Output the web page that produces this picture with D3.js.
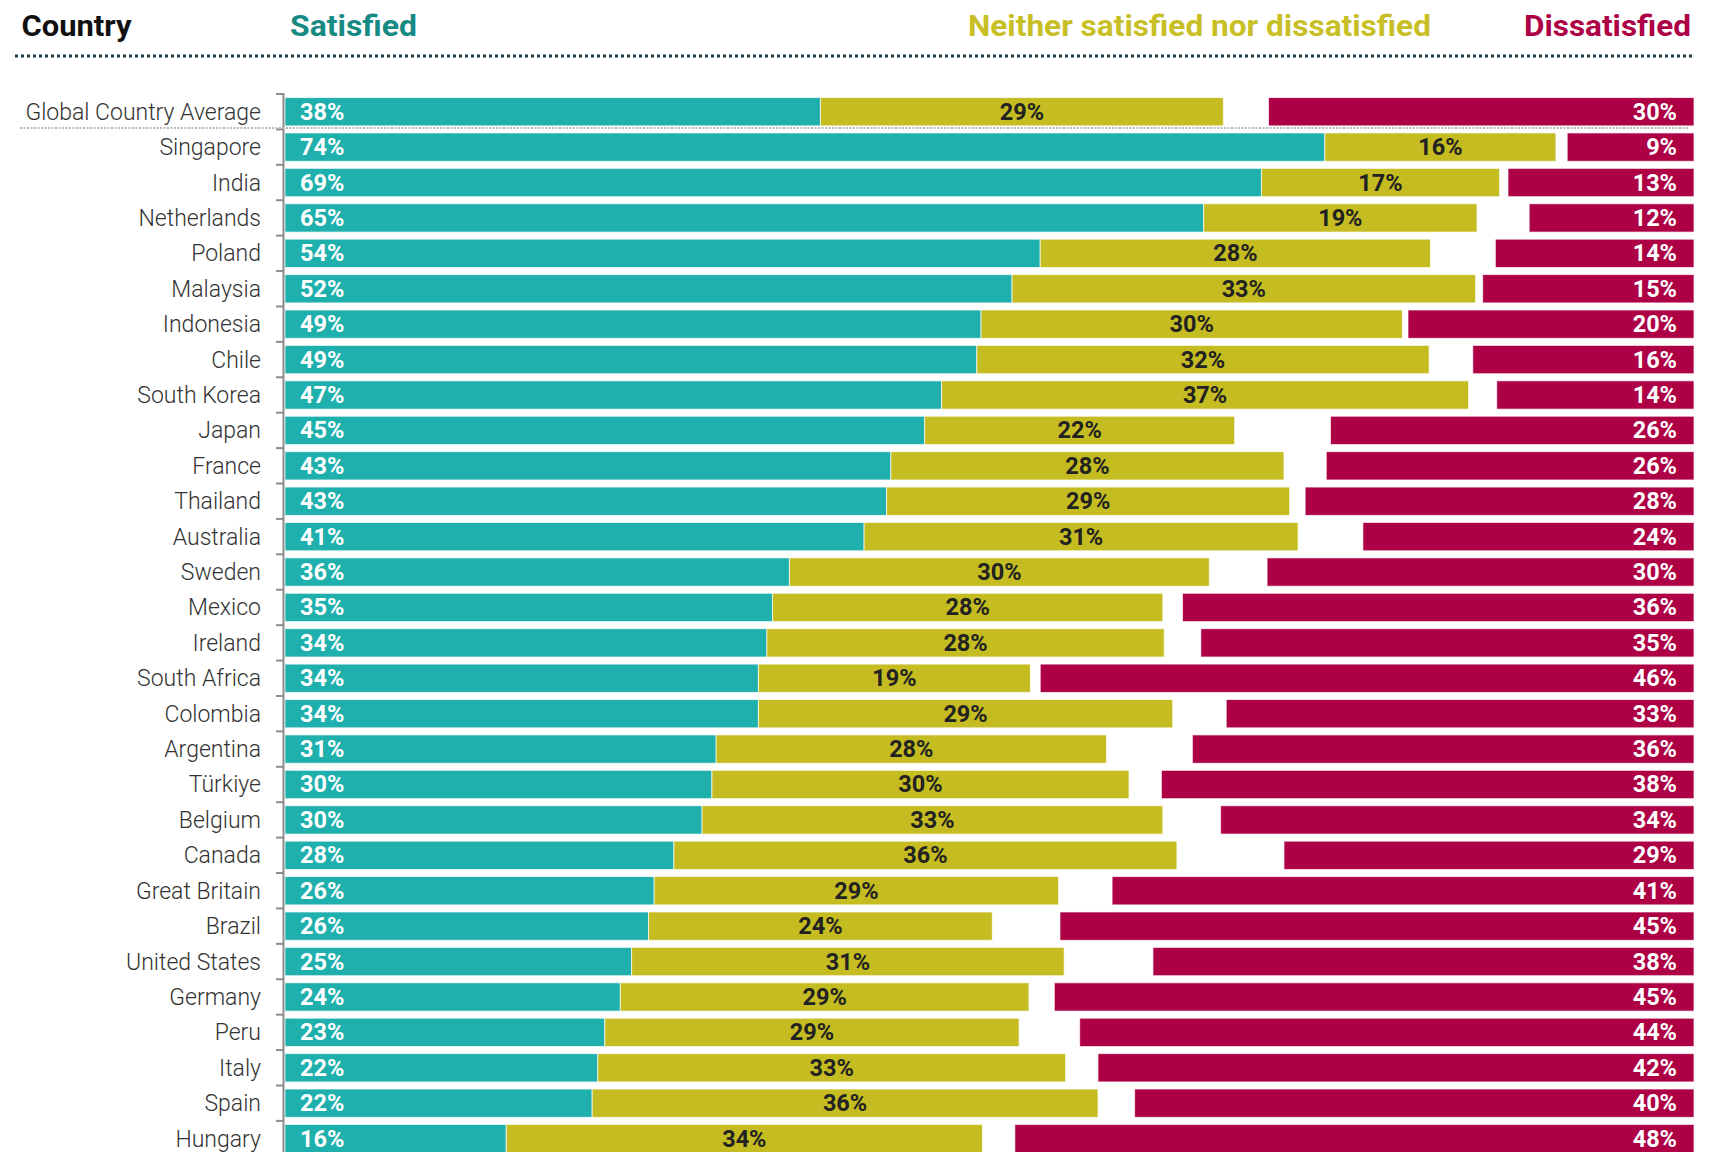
<!DOCTYPE html>
<html>
<head>
<meta charset="utf-8">
<script src="https://cdn.jsdelivr.net/npm/d3@7"></script>
<style>
  body { margin: 0; background: #fff; }
  svg { display: block; font-family: Roboto, "Noto Sans", sans-serif; }
</style>
</head>
<body>
<svg></svg>
<script>
let width = 1716, height = 1152;

// data (bar lengths, labels show rounded values)
let countries = ["Global Country Average", "Singapore", "India", "Netherlands", "Poland", "Malaysia",
  "Indonesia", "Chile", "South Korea", "Japan", "France", "Thailand", "Australia", "Sweden",
  "Mexico", "Ireland", "South Africa", "Colombia", "Argentina", "Türkiye", "Belgium", "Canada",
  "Great Britain", "Brazil", "United States", "Germany", "Peru", "Italy", "Spain", "Hungary"];

let satisfied = [38.0, 73.8, 69.3, 65.2, 53.6, 51.6, 49.4, 49.1, 46.6, 45.4, 43.0, 42.7, 41.1, 35.8,
  34.6, 34.2, 33.6, 33.6, 30.6, 30.3, 29.6, 27.6, 26.2, 25.8, 24.6, 23.8, 22.7, 22.2, 21.8, 15.7];

let neutral = [28.6, 16.4, 16.9, 19.4, 27.7, 32.9, 29.9, 32.1, 37.4, 22.0, 27.9, 28.6, 30.8, 29.8,
  27.7, 28.2, 19.3, 29.4, 27.7, 29.6, 32.7, 35.7, 28.7, 24.4, 30.7, 29.0, 29.4, 33.2, 35.9, 33.8];

let dissatisfied = [30.2, 9.0, 13.2, 11.7, 14.1, 15.0, 20.3, 15.7, 14.0, 25.8, 26.1, 27.6, 23.5, 30.3,
  36.3, 35.0, 46.4, 33.2, 35.6, 37.8, 33.6, 29.1, 41.3, 45.0, 38.4, 45.4, 43.6, 42.3, 39.7, 48.2];

let headers = ["Country", "Satisfied", "Neither satisfied nor dissatisfied", "Dissatisfied"];

let colors = {
  sat: "#1fb0ae", neu: "#c4bc20", dis: "#ad0045",
  satHead: "#178a84", neuHead: "#c8bf26", disHead: "#ad0045"
};

let rows = countries.map((c, i) => ({
  country: c, s: satisfied[i], n: neutral[i], d: dissatisfied[i]
}));

let svg = d3.select("svg")
  .attr("width", width)
  .attr("height", height)
  .attr("viewBox", "0 0 " + width + " " + height);

let x = d3.scaleLinear().domain([0, 100]).range([285, 1694]);

let y = d3.scaleBand()
  .domain(countries)
  .range([94, 94 + 30 * 35.41])
  .paddingInner(0.2)
  .paddingOuter(0.1);

let step = y.step();
let bh = y.bandwidth();

// header
let head = svg.append("g").attr("id", "header")
  .style("font-weight", 700)
  .style("font-size", "29.5px");

head.append("text").attr("x", 21.5).attr("y", 36).attr("fill", "#111")
  .attr("textLength", 110).attr("lengthAdjust", "spacingAndGlyphs").text(headers[0]);
head.append("text").attr("x", 290).attr("y", 36).attr("fill", colors.satHead)
  .attr("textLength", 127).attr("lengthAdjust", "spacingAndGlyphs").text(headers[1]);
head.append("text").attr("x", 968).attr("y", 36).attr("fill", colors.neuHead)
  .attr("textLength", 463).attr("lengthAdjust", "spacingAndGlyphs").text(headers[2]);
head.append("text").attr("x", 1524).attr("y", 36).attr("fill", colors.disHead)
  .attr("textLength", 167).attr("lengthAdjust", "spacingAndGlyphs").text(headers[3]);

svg.append("line")
  .attr("x1", 15).attr("x2", 1694)
  .attr("y1", 56).attr("y2", 56)
  .attr("stroke", "#1d3b4c")
  .attr("stroke-width", 3)
  .attr("stroke-dasharray", "3,3");

// bars
let barG = svg.append("g").attr("id", "bars");

let row = barG.selectAll("g")
  .data(rows)
  .enter()
  .append("g")
  .attr("transform", d => "translate(0," + y(d.country) + ")");

row.append("rect")
  .attr("x", x(0))
  .attr("width", d => x(d.s) - x(0))
  .attr("height", bh)
  .attr("fill", colors.sat);

row.append("rect")
  .attr("x", d => x(d.s))
  .attr("width", d => x(d.s + d.n) - x(d.s))
  .attr("height", bh)
  .attr("fill", colors.neu);

row.append("rect")
  .attr("x", d => x(100 - d.d))
  .attr("width", d => x(100) - x(100 - d.d))
  .attr("height", bh)
  .attr("fill", colors.dis);

row.selectAll("rect")
  .attr("stroke", "#fff")
  .attr("stroke-opacity", 0.7)
  .attr("stroke-width", 1);

// value labels
let ty = bh / 2 + 8;
let pct = v => Math.round(v) + "%";

row.append("text")
  .attr("x", x(0) + 15)
  .attr("y", ty)
  .attr("fill", "#fff")
  .style("font-weight", 700)
  .style("font-size", "23.5px")
  .text(d => pct(d.s));

row.append("text")
  .attr("x", d => (x(d.s) + x(d.s + d.n)) / 2)
  .attr("y", ty)
  .attr("text-anchor", "middle")
  .attr("fill", "#222")
  .style("font-weight", 700)
  .style("font-size", "23.5px")
  .text(d => pct(d.n));

row.append("text")
  .attr("x", x(100) - 17)
  .attr("y", ty)
  .attr("text-anchor", "end")
  .attr("fill", "#fff")
  .style("font-weight", 700)
  .style("font-size", "23.5px")
  .text(d => pct(d.d));

// country labels
row.append("text")
  .attr("x", 261)
  .attr("y", ty)
  .attr("text-anchor", "end")
  .attr("fill", "#333")
  .style("font-size", "23px")
  .style("font-weight", 300)
  .text(d => d.country);

// axis line + ticks at band boundaries
let axisG = svg.append("g").attr("id", "axis").attr("stroke", "#8c8c8c").attr("stroke-width", 2);

axisG.append("line")
  .attr("x1", 283.5).attr("x2", 283.5)
  .attr("y1", 93).attr("y2", height);

axisG.selectAll(".tick")
  .data(countries)
  .enter()
  .append("line")
  .attr("class", "tick")
  .attr("x1", 276).attr("x2", 283.5)
  .attr("y1", d => y(d) - step * 0.1)
  .attr("y2", d => y(d) - step * 0.1);

// dotted separator under the global average
svg.append("line")
  .attr("x1", 20).attr("x2", 1688)
  .attr("y1", y(countries[1]) - step * 0.1 - 1.5)
  .attr("y2", y(countries[1]) - step * 0.1 - 1.5)
  .attr("stroke", "#b8b8b8")
  .attr("stroke-width", 2)
  .attr("stroke-dasharray", "2,1.5");
</script>
</body>
</html>
